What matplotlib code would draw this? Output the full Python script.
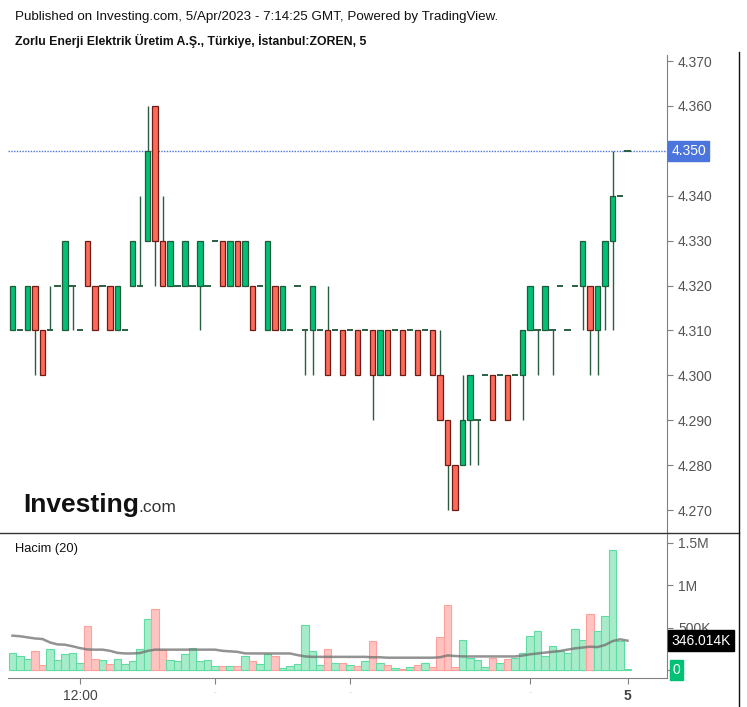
import matplotlib
matplotlib.use('Agg')
import matplotlib.pyplot as plt
from matplotlib.lines import Line2D
from matplotlib.ticker import FixedLocator

plt.rcParams['font.family'] = ['Liberation Sans', 'DejaVu Sans']

# ---------------- data ----------------
opens = [4.31, 4.31, 4.31, 4.32, 4.31, 4.31, 4.32, 4.31, 4.32, 4.31,
         4.33, 4.32, 4.32, 4.32, 4.31, 4.31, 4.32, 4.32, 4.33, 4.36,
         4.33, 4.32, 4.32, 4.32, 4.32, 4.32, 4.32, 4.33, 4.33, 4.32,
         4.33, 4.32, 4.32, 4.32, 4.31, 4.32, 4.31, 4.31, 4.32, 4.31,
         4.31, 4.31, 4.31, 4.31, 4.31, 4.31, 4.31, 4.31, 4.31, 4.30,
         4.31, 4.31, 4.31, 4.31, 4.31, 4.31, 4.31, 4.30, 4.29, 4.28,
         4.28, 4.29, 4.29, 4.30, 4.30, 4.30, 4.30, 4.30, 4.30, 4.31,
         4.31, 4.31, 4.31, 4.32, 4.31, 4.32, 4.32, 4.32, 4.31, 4.32,
         4.33, 4.34, 4.35]
highs = [4.32, 4.31, 4.32, 4.32, 4.31, 4.32, 4.32, 4.33, 4.32, 4.31,
         4.33, 4.32, 4.32, 4.32, 4.32, 4.31, 4.33, 4.34, 4.36, 4.36,
         4.34, 4.33, 4.32, 4.33, 4.32, 4.33, 4.32, 4.33, 4.33, 4.33,
         4.33, 4.33, 4.32, 4.32, 4.33, 4.32, 4.32, 4.31, 4.32, 4.31,
         4.32, 4.31, 4.32, 4.31, 4.31, 4.31, 4.31, 4.31, 4.31, 4.31,
         4.31, 4.31, 4.31, 4.31, 4.31, 4.31, 4.31, 4.31, 4.29, 4.28,
         4.30, 4.30, 4.29, 4.30, 4.30, 4.30, 4.30, 4.30, 4.31, 4.32,
         4.31, 4.32, 4.31, 4.32, 4.31, 4.32, 4.33, 4.32, 4.32, 4.33,
         4.35, 4.34, 4.35]
lows = [4.31, 4.31, 4.31, 4.30, 4.30, 4.31, 4.32, 4.31, 4.31, 4.31,
        4.32, 4.31, 4.32, 4.31, 4.31, 4.31, 4.32, 4.32, 4.33, 4.32,
        4.32, 4.32, 4.32, 4.32, 4.32, 4.31, 4.32, 4.33, 4.32, 4.32,
        4.32, 4.32, 4.31, 4.32, 4.31, 4.31, 4.31, 4.31, 4.32, 4.30,
        4.30, 4.31, 4.30, 4.31, 4.30, 4.31, 4.30, 4.31, 4.29, 4.30,
        4.30, 4.31, 4.30, 4.31, 4.30, 4.31, 4.30, 4.29, 4.27, 4.27,
        4.28, 4.28, 4.28, 4.30, 4.29, 4.30, 4.29, 4.30, 4.29, 4.31,
        4.30, 4.31, 4.30, 4.32, 4.31, 4.32, 4.31, 4.30, 4.30, 4.31,
        4.31, 4.34, 4.35]
closes = [4.32, 4.31, 4.32, 4.31, 4.30, 4.31, 4.32, 4.33, 4.32, 4.31,
          4.32, 4.31, 4.32, 4.31, 4.32, 4.31, 4.33, 4.32, 4.35, 4.33,
          4.32, 4.33, 4.32, 4.33, 4.32, 4.33, 4.32, 4.33, 4.32, 4.33,
          4.32, 4.33, 4.31, 4.32, 4.33, 4.31, 4.32, 4.31, 4.32, 4.31,
          4.32, 4.31, 4.30, 4.31, 4.30, 4.31, 4.30, 4.31, 4.30, 4.31,
          4.30, 4.31, 4.30, 4.31, 4.30, 4.31, 4.30, 4.29, 4.28, 4.27,
          4.29, 4.30, 4.29, 4.30, 4.29, 4.30, 4.29, 4.30, 4.31, 4.32,
          4.31, 4.32, 4.31, 4.32, 4.31, 4.32, 4.33, 4.31, 4.32, 4.33,
          4.34, 4.34, 4.35]
volumes_k = [204, 165, 134, 220, 59, 248, 118, 189, 204, 86,
             519, 134, 118, 71, 130, 71, 102, 248, 601, 719,
             236, 118, 102, 189, 263, 102, 118, 43, 43, 43,
             43, 161, 102, 71, 189, 161, 27, 43, 71, 527,
             220, 59, 248, 86, 86, 59, 43, 102, 342, 86,
             59, 27, 16, 31, 59, 86, 31, 393, 763, 31,
             354, 145, 118, 31, 145, 86, 130, 145, 204, 397,
             456, 161, 279, 220, 204, 487, 354, 660, 456, 633,
             1410, 338, 8]
vol_ma_k = [405, 398, 385, 372, 365, 325, 302, 298, 280, 258,
            242, 240, 240, 226, 202, 195, 195, 200, 225, 240,
            240, 240, 240, 240, 240, 240, 240, 240, 226, 220,
            214, 196, 195, 195, 195, 195, 195, 195, 176, 160,
            155, 155, 155, 155, 155, 155, 155, 155, 150, 150,
            145, 145, 145, 145, 145, 145, 145, 150, 172, 165,
            160, 160, 160, 160, 160, 160, 160, 160, 170, 185,
            195, 205, 215, 225, 240, 255, 265, 275, 270, 295,
            340, 362, 346]
price_ticks = [4.27, 4.28, 4.29, 4.30, 4.31, 4.32, 4.33, 4.34, 4.35, 4.36, 4.37]
volume_ticks_k = [0, 500, 1000, 1500]
volume_tick_labels = ['0', '500K', '1M', '1.5M']
time_tick_idx = [9, 27, 45, 69, 82]
time_tick_labels = ['12:00', '-', '-', '-', '5']
last_price = 4.35
last_ma_k = 346.014

# ---------------- styles ----------------
G_FILL, G_EDGE = '#00c176', '#1f5a3a'
R_FILL, R_EDGE = '#ff6a5b', '#6b1d15'
WICK = '#2a5e42'
VG_FILL, VG_EDGE = '#a6ecca', '#5fdca2'
VR_FILL, VR_EDGE = '#ffc4c1', '#ffa09b'
BLUE = '#4b74dc'

W, H = 747, 707
fig = plt.figure(figsize=(W / 100, H / 100), dpi=100)


def px_axes(l, t, r, b):
    return [l / W, 1 - b / H, (r - l) / W, (b - t) / H]


ax = fig.add_axes(px_axes(8, 55, 667, 533))
axv = fig.add_axes(px_axes(8, 533, 667, 678))

xmin = (8 - 12.5) / 7.5
xmax = (667 - 12.5) / 7.5
for a in (ax, axv):
    a.set_xlim(xmin, xmax)
    a.set_facecolor('white')

ax.set_ylim(4.370 - (533 - 61) / 44.9 * 0.01, 4.370 + (61 - 55) / 44.9 * 0.01)
axv.set_ylim((670 - 678) * 11.792, (670 - 533) * 11.792)

n = len(opens)
for i in range(n):
    o, h, l, c = opens[i], highs[i], lows[i], closes[i]
    if h > l:
        ax.vlines(i, l, h, color=WICK, lw=1.0, zorder=2)
    if abs(c - o) < 1e-9:
        ax.hlines(o, i - 0.42, i + 0.42, color=WICK, lw=1.4, zorder=3)
    else:
        up = c > o
        ax.bar(i, abs(c - o), bottom=min(o, c), width=0.74,
               color=G_FILL if up else R_FILL,
               edgecolor=G_EDGE if up else R_EDGE, lw=0.9, zorder=3)

# last price dotted line
ax.axhline(last_price, color=BLUE, lw=1.0, ls=(0, (1, 1)), zorder=1)

# volume
for i in range(n):
    up = closes[i] >= opens[i]
    axv.bar(i, volumes_k[i], width=0.95,
            color=VG_FILL if up else VR_FILL,
            edgecolor=VG_EDGE if up else VR_EDGE, lw=0.8, zorder=2)
axv.plot(range(n), vol_ma_k, color='#6f6f6f', lw=1.8, alpha=0.75, zorder=3)

# axes styling
for a in (ax, axv):
    a.spines['top'].set_visible(False)
    a.spines['left'].set_visible(False)
    a.spines['right'].set_color('#808080')
    a.yaxis.tick_right()
    a.tick_params(axis='y', length=4, color='#808080', labelcolor='#555555',
                  labelsize=10, pad=4)
ax.spines['bottom'].set_visible(False)
ax.tick_params(axis='x', bottom=False, labelbottom=False)
axv.spines['bottom'].set_color('#808080')

ax.yaxis.set_major_locator(FixedLocator(price_ticks))
ax.set_yticklabels(['' if abs(p - last_price) < 1e-9 else '%.3f' % p for p in price_ticks])

axv.yaxis.set_major_locator(FixedLocator(volume_ticks_k))
axv.set_yticklabels(['' if v == 0 else lab for v, lab in zip(volume_ticks_k, volume_tick_labels)])

axv.xaxis.set_major_locator(FixedLocator(time_tick_idx))
axv.set_xticklabels(time_tick_labels)
axv.tick_params(axis='x', length=4, color='#808080', labelcolor='#444444',
                labelsize=10, pad=4)
for lab in axv.get_xticklabels():
    if lab.get_text() == '-':
        lab.set_color('#c8c8c8')
        lab.set_fontsize(6)
    if lab.get_text() == '5':
        lab.set_fontweight('bold')

# value boxes on the right axis
ax.annotate('%.3f' % last_price, xy=(1, last_price), xycoords=('axes fraction', 'data'),
            xytext=(3, 0), textcoords='offset points', ha='left', va='center',
            color='white', fontsize=10,
            bbox=dict(boxstyle='square,pad=0.22', fc=BLUE, ec=BLUE))
axv.annotate('%.3fK' % last_ma_k, xy=(1, last_ma_k), xycoords=('axes fraction', 'data'),
             xytext=(3, 0), textcoords='offset points', ha='left', va='center',
             color='white', fontsize=10, zorder=10,
             bbox=dict(boxstyle='square,pad=0.25', fc='black', ec='black'))
axv.annotate(volume_tick_labels[0], xy=(1, 0), xycoords=('axes fraction', 'data'),
             xytext=(4, 0), textcoords='offset points', ha='left', va='center',
             color='white', fontsize=10, zorder=10,
             bbox=dict(boxstyle='square,pad=0.22', fc='#00c176', ec='#00c176'))

# frame lines
fig.add_artist(Line2D([0, 739 / W], [1 - 533 / H] * 2, color='#333333', lw=1.0))
fig.add_artist(Line2D([739 / W] * 2, [1 - 52 / H, 0], color='#111111', lw=1.0))

# texts
fig.text(15 / W, 1 - 17 / H,
         'Published on Investing.com, 5/Apr/2023 - 7:14:25 GMT, Powered by TradingView.',
         fontsize=9.6, va='center', ha='left', color='#111111')
fig.text(15 / W, 1 - 41 / H,
         'Zorlu Enerji Elektrik Üretim A.Ş., Türkiye, İstanbul:ZOREN, 5',
         fontsize=8.85, fontweight='bold', va='center', ha='left', color='#111111')
fig.text(15 / W, 1 - 549 / H, 'Hacim (20)', fontsize=9.3, va='center', ha='left',
         color='#111111')

# logo
fig.text(23 / W, 1 - 505 / H, 'Investing', fontsize=19, fontweight='bold',
         va='center', ha='left', color='#111111')
fig.text(138 / W, 1 - 508 / H, '.com', fontsize=12.5, va='center', ha='left',
         color='#333333')

fig.savefig('out.png', dpi=100, facecolor='white')
